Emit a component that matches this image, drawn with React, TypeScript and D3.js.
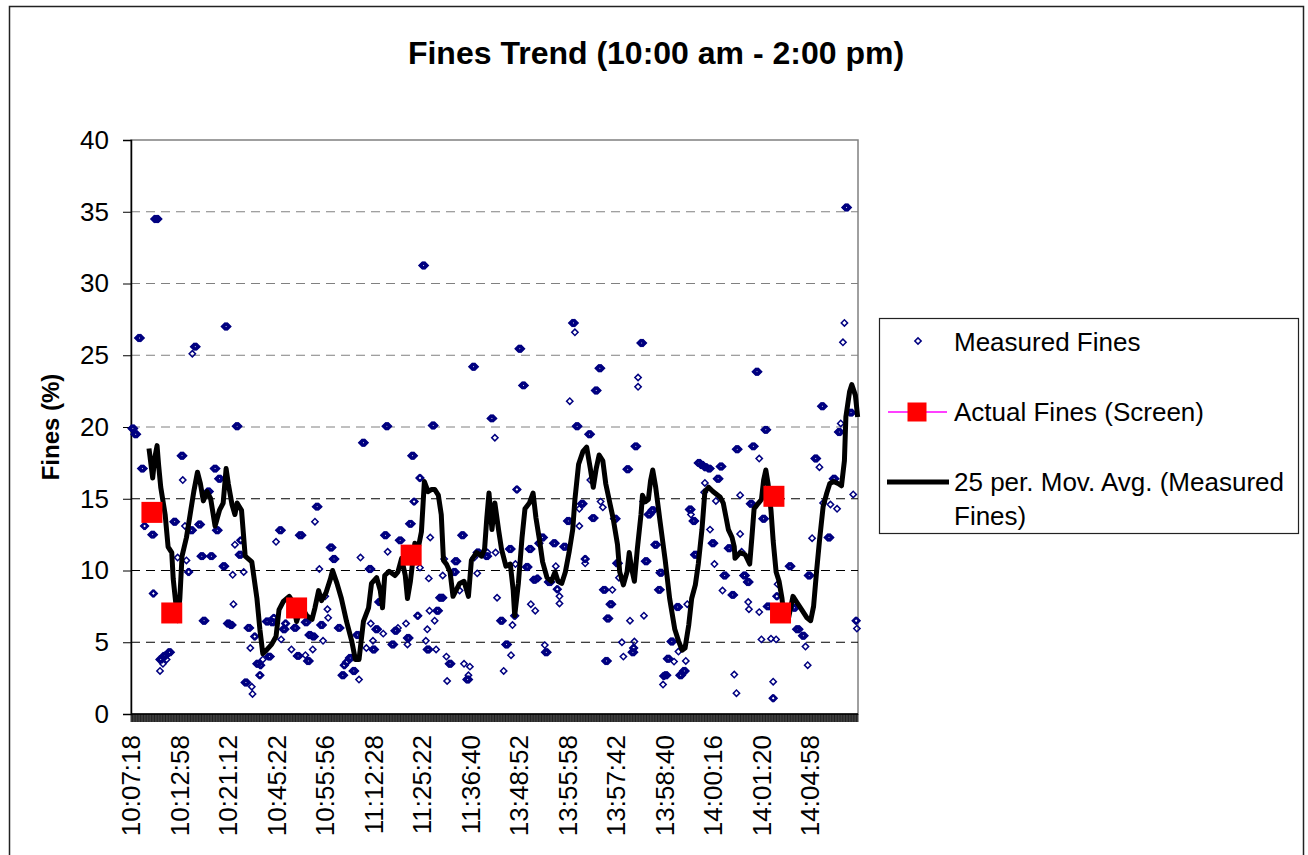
import React, { useEffect, useRef } from 'react';
import * as d3 from 'd3';

// category axis: one slot per sample, a label every LABEL_STEP samples
const CATEGORY_COUNT = 990;
const LABEL_STEP = 66;

const tickLabels = [
  '10:07:18', '10:12:58', '10:21:12', '10:45:22', '10:55:56', '11:12:28', '11:25:22', '11:36:40',
  '13:48:52', '13:55:58', '13:57:42', '13:58:40', '14:00:16', '14:01:20', '14:04:58',
];

const yTicks = [0, 5, 10, 15, 20, 25, 30, 35, 40];

// [first sample index, fines %, consecutive samples holding the same reading]
const measured: [number, number, number][] = [
  [0, 19.9, 5], [4, 19.5, 5], [9, 26.2, 5], [13, 17.1, 5], [17, 13.1, 3], [27, 12.5, 5], [29, 8.4, 3], [31, 34.5, 7],
  [38, 3.8, 5], [39, 3.0, 1], [43, 4.05, 5], [43, 3.5, 1], [46, 4.1, 3], [48, 3.8, 1], [50, 4.3, 5], [57, 13.4, 5],
  [63, 10.9, 1], [67, 18.0, 5], [70, 16.3, 1], [73, 13.1, 1], [75, 10.7, 1], [77, 9.9, 3], [80, 12.8, 5], [83, 25.1, 1],
  [85, 25.6, 5], [91, 13.2, 5], [94, 11.0, 5], [97, 6.5, 5], [103, 15.5, 5], [107, 11.0, 5], [112, 17.1, 5], [115, 12.8, 5],
  [118, 16.4, 5], [124, 10.3, 5], [127, 27.0, 5], [130, 6.3, 5], [134, 6.2, 5], [138, 9.7, 1], [139, 7.65, 1], [141, 11.8, 1],
  [142, 20.05, 5], [146, 11.1, 5], [148, 12.1, 3], [153, 9.9, 1], [154, 2.2, 5], [158, 6.0, 5], [162, 4.6, 1], [164, 1.9, 1],
  [165, 1.4, 1], [167, 5.4, 3], [170, 3.5, 5], [174, 2.7, 3], [175, 3.4, 3], [179, 3.8, 1], [183, 6.45, 5], [186, 4.0, 5],
  [190, 6.4, 5], [193, 6.7, 3], [197, 12.0, 1], [201, 12.8, 5], [204, 5.2, 1], [206, 5.9, 5], [209, 6.3, 3], [218, 4.5, 1],
  [221, 6.0, 5], [225, 4.05, 5], [228, 12.45, 6], [236, 6.4, 5], [237, 4.1, 1], [239, 3.7, 5], [241, 5.5, 5], [246, 5.4, 5],
  [247, 4.5, 1], [250, 13.4, 1], [251, 14.45, 5], [256, 10.1, 1], [257, 6.2, 5], [261, 5.1, 1], [264, 8.2, 1], [267, 7.3, 1],
  [268, 6.7, 1], [270, 11.6, 5], [274, 10.8, 5], [281, 6.0, 5], [286, 2.7, 5], [289, 3.4, 3], [292, 3.6, 3], [296, 3.9, 5],
  [301, 3.0, 5], [306, 5.5, 5], [310, 2.4, 1], [312, 10.9, 1], [314, 18.9, 5], [320, 4.6, 1], [323, 10.1, 5], [326, 6.3, 1],
  [328, 4.5, 5], [329, 5.1, 1], [332, 5.9, 5], [336, 7.8, 5], [343, 5.6, 1], [344, 12.45, 5], [346, 20.05, 5], [349, 11.3, 1],
  [354, 4.85, 5], [358, 5.8, 5], [363, 6.0, 1], [364, 12.1, 5], [374, 6.3, 1], [375, 5.3, 5], [376, 4.85, 1], [378, 13.25, 5],
  [381, 18.0, 5], [384, 14.8, 3], [389, 6.85, 3], [392, 16.45, 3], [393, 10.2, 1], [396, 31.25, 5], [401, 5.1, 1], [402, 4.5, 5],
  [403, 5.9, 1], [405, 9.45, 1], [406, 7.2, 1], [407, 12.3, 1], [409, 20.1, 5], [413, 6.5, 1], [415, 7.2, 5], [415, 4.5, 1],
  [419, 8.1, 7], [424, 9.65, 1], [426, 10.8, 1], [429, 4.0, 1], [430, 2.3, 1], [432, 3.5, 5], [438, 9.9, 5], [440, 10.65, 5],
  [447, 8.6, 1], [449, 12.45, 5], [453, 3.5, 1], [456, 2.4, 5], [459, 2.7, 1], [461, 3.3, 1], [464, 24.2, 5], [467, 10.9, 1],
  [470, 11.25, 5], [471, 9.8, 1], [482, 11.0, 5], [485, 11.25, 1], [489, 20.6, 5], [495, 19.25, 1], [496, 11.25, 1], [498, 8.1, 1],
  [502, 6.5, 5], [507, 3.0, 1], [509, 4.85, 5], [514, 11.5, 5], [517, 4.1, 1], [519, 6.2, 1], [521, 6.85, 3], [523, 10.45, 1],
  [524, 15.65, 3], [527, 25.45, 5], [532, 22.9, 5], [537, 10.25, 5], [541, 11.5, 5], [544, 7.65, 1], [547, 9.35, 5], [550, 7.2, 1],
  [552, 9.45, 3], [554, 11.9, 3], [558, 12.3, 5], [563, 4.3, 5], [563, 4.8, 1], [567, 9.2, 6], [574, 11.9, 5], [578, 10.3, 1],
  [579, 8.7, 3], [583, 8.2, 1], [583, 7.7, 1], [588, 11.65, 5], [593, 13.45, 5], [597, 21.8, 1], [600, 27.25, 5], [604, 26.6, 1],
  [605, 20.05, 5], [610, 14.3, 1], [610, 13.1, 1], [612, 14.65, 5], [617, 10.8, 3], [618, 10.5, 1], [622, 19.5, 5], [625, 16.3, 1],
  [627, 13.65, 5], [631, 22.55, 5], [636, 24.1, 5], [639, 14.8, 1], [642, 14.4, 1], [642, 8.65, 5], [645, 3.7, 5], [647, 6.65, 5],
  [651, 7.65, 5], [655, 8.65, 1], [657, 13.6, 5], [660, 10.5, 5], [664, 9.5, 1], [668, 5.0, 1], [670, 4.0, 1], [674, 17.05, 5],
  [679, 6.5, 1], [681, 4.3, 5], [683, 4.6, 3], [685, 5.05, 1], [685, 18.65, 5], [690, 23.45, 1], [690, 22.8, 1], [693, 25.85, 5],
  [697, 14.8, 1], [698, 6.85, 1], [699, 10.65, 5], [703, 13.9, 5], [708, 14.2, 5], [712, 11.8, 5], [717, 8.65, 5], [719, 9.85, 5],
  [724, 2.05, 1], [724, 2.65, 3], [726, 2.7, 5], [729, 3.85, 5], [734, 5.05, 5], [739, 3.65, 1], [742, 7.45, 5], [745, 4.35, 1],
  [746, 2.7, 5], [751, 3.0, 5], [755, 3.7, 1], [757, 7.65, 1], [759, 14.25, 5], [762, 13.9, 1], [764, 13.45, 5], [766, 11.1, 5],
  [771, 17.5, 5], [775, 17.35, 5], [780, 17.2, 5], [780, 15.45, 1], [781, 16.1, 1], [785, 17.1, 5], [788, 12.85, 1], [790, 11.9, 5],
  [794, 10.45, 1], [796, 14.85, 1], [797, 16.4, 5], [801, 17.25, 5], [805, 8.6, 1], [806, 9.65, 5], [812, 11.55, 5], [817, 8.3, 5],
  [821, 2.75, 1], [823, 18.45, 5], [824, 1.45, 1], [829, 15.25, 1], [829, 12.55, 1], [831, 11.3, 1], [833, 9.65, 5], [838, 9.2, 5],
  [840, 7.8, 1], [841, 7.3, 1], [842, 14.65, 5], [845, 18.65, 5], [850, 23.85, 5], [855, 17.8, 1], [855, 7.1, 1], [858, 5.2, 1],
  [859, 13.6, 5], [862, 19.8, 5], [865, 7.5, 5], [871, 5.25, 1], [873, 1.1, 3], [874, 2.25, 1], [878, 5.2, 1], [878, 8.2, 3],
  [880, 9.05, 1], [895, 10.3, 5], [901, 7.4, 5], [905, 5.9, 6], [913, 5.45, 5], [918, 4.7, 1], [921, 3.4, 1], [921, 9.65, 5],
  [927, 12.25, 1], [930, 17.8, 5], [937, 17.2, 1], [939, 21.45, 5], [942, 14.7, 1], [948, 12.3, 5], [952, 14.6, 1], [955, 16.4, 5],
  [961, 14.3, 1], [962, 19.65, 5], [966, 20.25, 1], [969, 25.9, 1], [971, 27.25, 1], [972, 35.3, 5], [978, 21.0, 5], [983, 15.3, 1],
  [986, 6.5, 3], [988, 5.95, 1],
];

// screen samples [sample index, fines %]
const actualFines: [number, number][] = [
  [28, 14.05], [55, 7.04], [225, 7.39], [381, 11.07], [875, 15.17], [884, 7.04],
];

// 25 period moving average, read at its turning points
const movingAvg: [number, number][] = [
  [24, 18.5], [29, 16.45], [32, 17.9], [35, 18.7], [37, 17.4], [40, 15.8], [46, 13.9], [50, 11.65], [55, 11.25], [57, 9.4],
  [63, 6.5], [66, 8.05], [69, 11.0], [75, 12.3], [80, 13.9], [85, 15.5], [90, 16.85], [94, 16.05], [98, 14.85], [103, 15.5],
  [108, 15.0], [114, 13.1], [120, 14.2], [125, 14.7], [129, 17.1], [132, 16.05], [137, 14.6], [141, 13.9], [144, 14.7], [150, 14.2],
  [155, 11.0], [164, 10.6], [171, 8.05], [175, 5.9], [179, 4.2], [184, 4.45], [191, 4.85], [197, 5.4], [201, 7.25], [207, 7.85],
  [215, 8.2], [220, 7.8], [225, 6.45], [230, 7.25], [236, 7.1], [239, 6.85], [246, 6.6], [250, 7.4], [255, 8.6], [259, 7.9],
  [265, 8.45], [271, 9.4], [274, 10.0], [280, 9.1], [286, 8.05], [293, 6.45], [300, 5.1], [305, 3.8], [310, 3.8], [316, 6.45],
  [323, 7.4], [327, 9.1], [334, 9.5], [339, 8.6], [342, 7.4], [345, 9.65], [351, 9.95], [359, 9.65], [363, 9.9], [368, 10.85],
  [373, 9.65], [376, 8.05], [380, 9.25], [386, 11.9], [391, 11.65], [395, 12.7], [399, 16.2], [404, 15.5], [409, 15.65], [413, 15.65],
  [418, 15.25], [422, 13.9], [425, 10.7], [429, 10.45], [434, 9.9], [438, 8.2], [442, 8.6], [447, 9.1], [453, 9.25], [459, 8.2],
  [463, 10.7], [470, 11.25], [477, 11.0], [481, 11.5], [484, 13.65], [487, 15.4], [491, 12.85], [495, 14.7], [500, 12.85], [504, 11.5],
  [510, 10.3], [516, 10.45], [520, 8.6], [522, 6.85], [527, 9.1], [532, 12.3], [536, 14.3], [542, 14.7], [547, 15.4], [551, 13.65],
  [556, 12.05], [560, 10.6], [566, 9.5], [572, 9.25], [577, 9.9], [581, 9.25], [586, 9.1], [591, 9.9], [596, 11.25], [601, 12.85],
  [604, 14.95], [609, 17.4], [615, 18.3], [620, 18.6], [625, 17.1], [629, 15.8], [633, 17.1], [637, 18.05], [642, 17.65], [646, 16.05],
  [652, 14.6], [656, 13.65], [662, 11.8], [665, 9.9], [670, 9.0], [675, 9.9], [678, 11.25], [681, 10.2], [685, 9.25], [689, 11.5],
  [694, 13.9], [696, 15.25], [700, 14.8], [704, 14.95], [707, 16.25], [710, 17.0], [714, 15.8], [720, 13.4], [727, 10.7], [733, 8.05],
  [740, 5.9], [745, 5.1], [750, 4.45], [754, 4.6], [759, 6.2], [763, 8.05], [768, 9.0], [772, 10.45], [777, 12.85], [781, 15.5],
  [786, 15.8], [792, 15.5], [802, 15.1], [806, 14.7], [810, 13.65], [813, 12.85], [818, 12.3], [821, 11.65], [822, 10.85], [829, 11.25],
  [836, 11.1], [842, 10.45], [845, 12.3], [848, 14.3], [854, 14.7], [858, 14.95], [861, 16.3], [864, 17.0], [867, 16.05], [871, 14.2],
  [874, 12.05], [878, 9.9], [882, 9.25], [886, 8.05], [889, 6.6], [895, 6.7], [901, 8.2], [906, 7.8], [913, 7.25], [920, 6.7],
  [925, 6.5], [929, 7.5], [933, 9.9], [937, 12.05], [942, 14.45], [947, 15.4], [951, 16.05], [956, 16.2], [963, 16.05], [967, 15.9],
  [971, 17.65], [973, 20.7], [978, 22.45], [981, 22.95], [986, 22.2], [989, 20.7],
];

const FONT = '"Liberation Sans", Arial, sans-serif';
const NAVY = '#000080';

export default function App() {
  const svgRef = useRef<SVGSVGElement>(null);

  useEffect(() => {
    if (!svgRef.current) return;
    const svg = d3.select(svgRef.current);
    svg.selectAll('*').remove();

    const left = 131, right = 858, top = 140, bottom = 714;

    const x = d3.scaleLinear().domain([0, CATEGORY_COUNT]).range([left, right]);
    const cx = (i: number) => x(i + 0.5);
    const y = d3.scaleLinear().domain([0, 40]).range([bottom, top]);

    svg.append('rect').attr('width', 1308).attr('height', 855).attr('fill', 'white');
    // chart frame (runs off the right/bottom of the picture)
    svg.append('rect')
      .attr('x', 9.5).attr('y', 6.5).attr('width', 1294).attr('height', 900)
      .attr('fill', 'none').attr('stroke', '#222').attr('stroke-width', 1.5);

    svg.append('text')
      .attr('x', 656).attr('y', 64)
      .attr('text-anchor', 'middle')
      .attr('font-family', FONT).attr('font-size', 32).attr('font-weight', 'bold')
      .text('Fines Trend (10:00 am - 2:00 pm)');

    // plot area border
    svg.append('rect')
      .attr('x', left).attr('y', top).attr('width', right - left).attr('height', bottom - top)
      .attr('fill', 'none').attr('stroke', '#808080').attr('stroke-width', 1.5);

    // gridlines
    svg.append('g')
      .selectAll('line')
      .data(yTicks.filter(v => v > 0 && v < 40))
      .enter()
      .append('line')
      .attr('x1', left).attr('x2', right)
      .attr('y1', d => y(d)).attr('y2', d => y(d))
      .attr('stroke', d => (d <= 15 ? '#000' : '#808080'))
      .attr('stroke-width', 1)
      .attr('stroke-dasharray', '9,6');

    // y axis
    const yAxis = svg.append('g')
      .attr('transform', `translate(${left},0)`)
      .call(d3.axisLeft(y).tickValues(yTicks).tickSize(8).tickPadding(14));
    yAxis.select('.domain').attr('stroke', '#000').attr('stroke-width', 1.5);
    yAxis.selectAll('.tick line').attr('stroke', '#000');
    yAxis.selectAll('.tick text').attr('font-family', FONT).attr('font-size', 26).attr('fill', '#000');

    svg.append('text')
      .attr('transform', 'translate(51,427) rotate(-90)')
      .attr('text-anchor', 'middle').attr('dy', '0.35em')
      .attr('font-family', FONT).attr('font-size', 24).attr('font-weight', 'bold')
      .text('Fines (%)');

    // x axis: a tick for every sample boundary
    svg.append('g')
      .selectAll('line')
      .data(d3.range(CATEGORY_COUNT + 1))
      .enter()
      .append('line')
      .attr('x1', d => x(d)).attr('x2', d => x(d))
      .attr('y1', bottom).attr('y2', bottom + 8)
      .attr('stroke', '#000').attr('stroke-width', 0.8);
    svg.append('line')
      .attr('x1', left).attr('x2', right).attr('y1', bottom).attr('y2', bottom)
      .attr('stroke', '#000').attr('stroke-width', 1.5);

    svg.append('g')
      .selectAll('text')
      .data(tickLabels)
      .enter()
      .append('text')
      .attr('transform', (_, i) => `translate(${cx(i * LABEL_STEP)},735) rotate(-90)`)
      .attr('text-anchor', 'end').attr('dy', '0.35em')
      .attr('font-family', FONT).attr('font-size', 26)
      .text(d => d);

    // measured fines: hollow diamonds, repeated readings overlap into blobs
    const diamond = d3.symbol().type(d3.symbolSquare).size(20)();
    const pts: [number, number][] = [];
    measured.forEach(([i, v, n]) => {
      for (let k = 0; k < n; k++) pts.push([i + k, v]);
    });
    svg.append('g')
      .selectAll('path')
      .data(pts)
      .enter()
      .append('path')
      .attr('d', diamond)
      .attr('transform', d => `translate(${cx(d[0])},${y(d[1])}) rotate(45)`)
      .attr('fill', 'none').attr('stroke', NAVY).attr('stroke-width', 1.5);

    // moving average
    const line = d3.line<[number, number]>().x(d => cx(d[0])).y(d => y(d[1]));
    svg.append('path')
      .datum(movingAvg)
      .attr('d', line)
      .attr('fill', 'none').attr('stroke', '#000').attr('stroke-width', 5)
      .attr('stroke-linejoin', 'round');

    // actual fines
    svg.append('g')
      .selectAll('rect')
      .data(actualFines)
      .enter()
      .append('rect')
      .attr('x', d => cx(d[0]) - 10.5).attr('y', d => y(d[1]) - 10.5)
      .attr('width', 21).attr('height', 21)
      .attr('fill', '#ff0000');

    // legend
    const lg = svg.append('g');
    lg.append('rect')
      .attr('x', 879.5).attr('y', 318.5).attr('width', 419).attr('height', 215)
      .attr('fill', 'white').attr('stroke', '#222').attr('stroke-width', 1.2);
    lg.append('path')
      .attr('d', diamond)
      .attr('transform', 'translate(918,341) rotate(45)')
      .attr('fill', 'none').attr('stroke', NAVY).attr('stroke-width', 1.5);
    lg.append('line')
      .attr('x1', 888).attr('x2', 947).attr('y1', 412).attr('y2', 412)
      .attr('stroke', '#ff00ff').attr('stroke-width', 1.5);
    lg.append('rect')
      .attr('x', 907.5).attr('y', 402.5).attr('width', 19).attr('height', 19)
      .attr('fill', '#ff0000');
    lg.append('line')
      .attr('x1', 887).attr('x2', 949).attr('y1', 482).attr('y2', 482)
      .attr('stroke', '#000').attr('stroke-width', 5);

    const labels: [string, number][] = [
      ['Measured Fines', 342],
      ['Actual Fines (Screen)', 412],
      ['25 per. Mov. Avg. (Measured', 482],
      ['Fines)', 516],
    ];
    lg.selectAll('text.lbl')
      .data(labels)
      .enter()
      .append('text')
      .attr('class', 'lbl')
      .attr('x', 954).attr('y', d => d[1]).attr('dy', '0.35em')
      .attr('font-family', FONT).attr('font-size', 26)
      .text(d => d[0]);
  }, []);

  return (
    <div style={{ position: 'absolute', left: 0, top: 0 }}>
      <svg ref={svgRef} width={1308} height={855} style={{ display: 'block' }} />
    </div>
  );
}
